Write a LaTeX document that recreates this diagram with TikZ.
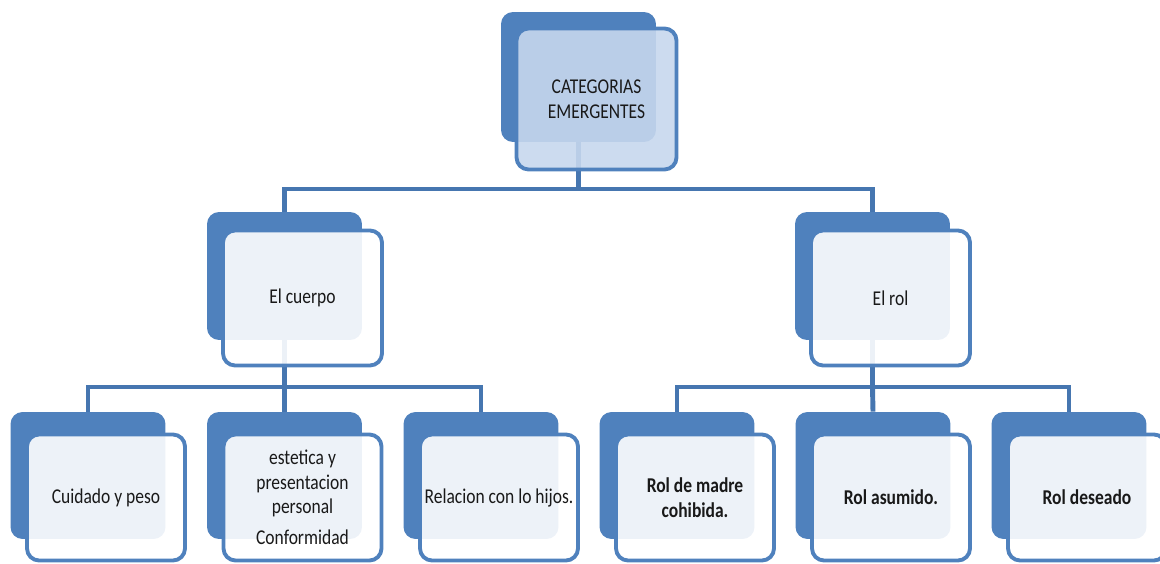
\documentclass[tikz,border=0pt]{standalone}
\usepackage{fontspec}
\setmainfont{Carlito}[FakeStretch=0.83]
\usetikzlibrary{calc, positioning}
\definecolor{smartblue}{RGB}{79,129,189}
\definecolor{linkblue}{RGB}{70,118,176}
\definecolor{toplight}{RGB}{198,215,237}
\tikzset{
	backbox/.style={fill=smartblue, rounded corners=2.4mm, inner sep=0pt, minimum width=3.1cm, minimum height=2.56cm},
	frontbox/.style={draw=smartblue, line width=2.2pt, fill=white, fill opacity=0.9, text opacity=1, rounded corners=2.4mm, inner sep=0pt, align=center, text=black!90, font=\fontsize{12}{14}\selectfont},
	leafbox/.style={frontbox, minimum width=3.16cm, minimum height=2.52cm},
	midbox/.style={frontbox, minimum width=3.18cm, minimum height=2.7cm},
	link/.style={draw=linkblue, line width=2.8pt},
}

\begin{document}
\begin{tikzpicture}[x=0.02cm, y=-0.02cm]
	\useasboundingbox (0,0) rectangle (1160,564);
	% back boxes
	\node[backbox, minimum height=2.6cm] (topb) at (578.5,77) {};
	\node[backbox] (cuerpob) at (284.5,276) {};
	\node[backbox] (rolb) at (872.5,276) {};
	\node[backbox, minimum height=2.54cm] (cuidadob) at (88,475.5) {};
	\node[backbox, minimum height=2.54cm] (esteticab) at (284.5,475.5) {};
	\node[backbox, minimum height=2.54cm] (relacionb) at (481,475.5) {};
	\node[backbox, minimum height=2.54cm] (madreb) at (677,475.5) {};
	\node[backbox, minimum height=2.54cm] (asumidob) at (873,475.5) {};
	\node[backbox, minimum height=2.54cm] (deseadob) at (1069,475.5) {};

	% connectors
	\coordinate (topjoin) at (578.5,189);
	\draw[link] (topb.south) -- (topjoin);
	\draw[link] (topjoin) -| (cuerpob.north);
	\draw[link] (topjoin) -| (rolb.north);
	\coordinate (cuerpojoin) at (284.5,387);
	\draw[link] (cuerpob.south) -- (cuerpojoin);
	\draw[link] (cuerpojoin) -| (cuidadob.north);
	\draw[link] (cuerpojoin) -- (esteticab.north);
	\draw[link] (cuerpojoin) -| (relacionb.north);
	\coordinate (roljoin) at (872.5,387);
	\draw[link] (rolb.south) -- (roljoin);
	\draw[link] (roljoin) -| (madreb.north);
	\draw[link] (roljoin) -- (asumidob.north);
	\draw[link] (roljoin) -| (deseadob.north);

	% front boxes
	\node[frontbox, fill=toplight, minimum width=3.2cm, minimum height=2.82cm] (top) at ([shift={(18,22)}]topb.center) {CATEGORIAS\\EMERGENTES};
	\node[midbox] (cuerpo) at ([shift={(18,22)}]cuerpob.center) {El cuerpo};
	\node[midbox] (rol) at ([shift={(18,22)}]rolb.center) {El rol};
	\node[leafbox] (cuidado) at ([shift={(18,22)}]cuidadob.center) {Cuidado y peso};
	\node[leafbox] (estetica) at ([shift={(18,22)}]esteticab.center) {estetica y\\presentacion\\personal\\[3.5pt]Conformidad};
	\node[leafbox] (relacion) at ([shift={(18,22)}]relacionb.center) {Relacion con lo hijos.};
	\node[leafbox, font=\fontsize{12}{14}\selectfont\bfseries] (madre) at ([shift={(18,22)}]madreb.center) {Rol de madre\\cohibida.};
	\node[leafbox, font=\fontsize{12}{14}\selectfont\bfseries] (asumido) at ([shift={(18,22)}]asumidob.center) {Rol asumido.};
	\node[leafbox, font=\fontsize{12}{14}\selectfont\bfseries] (deseado) at ([shift={(18,22)}]deseadob.center) {Rol deseado};
\end{tikzpicture}
\end{document}
